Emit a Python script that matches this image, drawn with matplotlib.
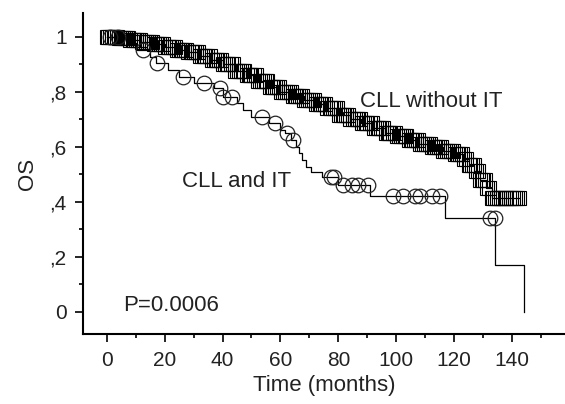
import numpy as np
import matplotlib
matplotlib.use('Agg')
import matplotlib.pyplot as plt
from matplotlib.ticker import MultipleLocator, FixedLocator, FixedFormatter

plt.rcParams['font.family'] = ['Liberation Sans', 'DejaVu Sans']

# CLL without IT: step breakpoints (months, survival) and censored times
no_it_t = [0, 4, 8, 12, 16, 20, 24, 28, 32, 36, 40, 44, 48, 52, 56, 60, 64, 68,
           72, 76, 80, 84, 88, 92, 96, 100, 104, 108, 112, 116, 120, 123, 125,
           127, 129, 131, 133]
no_it_s = [1.0, 0.995, 0.988, 0.98, 0.972, 0.963, 0.953, 0.943, 0.93, 0.915,
           0.90, 0.876, 0.86, 0.84, 0.818, 0.80, 0.785, 0.77, 0.755, 0.74,
           0.715, 0.70, 0.685, 0.668, 0.65, 0.637, 0.624, 0.61, 0.597, 0.585,
           0.572, 0.555, 0.535, 0.51, 0.48, 0.45, 0.415]
no_it_cens = [0, 0.6, 1, 1.8, 2.5, 3, 3.5, 4.3, 5, 5.6, 6.2, 6.9, 7.5, 8.2, 9,
              9.5, 10, 10.8, 11.5, 12.2, 13, 13.6, 14.2, 14.9, 15.5, 16.3, 17,
              17.5, 18, 18.8, 19.5, 20.2, 21, 21.6, 22.3, 22.9, 23.5, 24.3, 25,
              25.5, 26, 26.8, 27.5, 28.2, 29, 29.6, 30.2, 30.9, 31.5, 32.3, 33,
              33.5, 34, 34.8, 35.5, 36.2, 37, 37.6, 38.2, 38.9, 39.5, 40.3, 41,
              41.5, 42, 42.8, 43.5, 44.2, 45, 45.6, 46.3, 46.9, 47.5, 48.3, 49,
              49.5, 50, 50.8, 51.5, 52.2, 53, 53.6, 54.2, 54.9, 55.5, 56.3, 57,
              57.5, 58, 58.8, 59.5, 60.2, 61, 61.6, 62.3, 62.9, 63.5, 64.3, 65,
              65.5, 66, 66.8, 67.5, 68.2, 69, 69.6, 70.2, 70.9, 71.5, 72.3, 73,
              73.5, 74, 74.8, 75.5, 76.2, 77, 77.6, 78.2, 78.9, 79.5, 80.3, 81,
              81.5, 82, 82.8, 83.5, 84.2, 85, 85.6, 86.3, 86.9, 87.5, 88.3, 89,
              89.5, 90, 90.8, 91.5, 92.2, 93, 93.6, 94.2, 94.9, 95.5, 96.3, 97,
              97.5, 98, 98.8, 99.5, 100.2, 101, 101.6, 102.3, 102.9, 103.5,
              104.3, 105, 105.5, 106, 106.8, 107.5, 108.2, 109, 109.6, 110.2,
              110.9, 111.5, 112.3, 113, 113.5, 114, 114.8, 115.5, 116.2, 117,
              117.6, 118.3, 118.9, 119.5, 120.3, 121, 121.5, 122, 122.8, 123.5,
              124.2, 125, 125.6, 126.2, 126.9, 127.5, 128.3, 129, 129.5, 130,
              130.8, 131.5, 132.2, 133, 133.6, 134.2, 134.9, 135.5, 136.3, 137,
              137.5, 138, 138.8, 139.5, 140.2, 141, 141.6, 142.5]

# CLL and IT
it_t = [0, 7, 10, 15, 17, 21, 25, 30, 37, 40, 45, 47, 50, 56, 60, 61.5, 63.5,
        65.5, 66.5, 67.5, 69, 70.5, 74.5, 80, 91, 117, 134.2, 144]
it_s = [1.0, 0.976, 0.952, 0.927, 0.903, 0.879, 0.855, 0.83, 0.815, 0.782,
        0.758, 0.734, 0.709, 0.685, 0.661, 0.649, 0.625, 0.60, 0.576, 0.552,
        0.527, 0.509, 0.49, 0.46, 0.42, 0.34, 0.17, 0.0]
it_cens = [1, 4, 12.5, 17.3, 26.5, 33.7, 39.1, 40.3, 43.2, 53.5, 58.1, 62.2,
           64.2, 77.5, 78.5, 81.7, 84.6, 86.9, 90.4, 99, 102.4, 106.5, 108.3,
           112.3, 115.1, 132.4, 134.0]

yticks = [0, 0.2, 0.4, 0.6, 0.8, 1.0]
ytick_labels = ['0', ',2', ',4', ',6', ',8', '1']


def step_value(ts, ss, x):
    idx = np.searchsorted(ts, x, side='right') - 1
    return np.asarray(ss)[idx]


fig = plt.figure(figsize=(5.65, 4.04), dpi=100)
ax = fig.add_axes([0.1474, 0.1733, 0.8526, 0.7946])

# step lines, extended to last censored point
x1 = no_it_t + [no_it_cens[-1]]
y1 = no_it_s + [no_it_s[-1]]
ax.step(x1, y1, where='post', color='black', lw=0.9)
ax.step(it_t, it_s, where='post', color='black', lw=0.9)

ax.plot(no_it_cens, step_value(no_it_t, no_it_s, no_it_cens), ls='none',
        marker='s', ms=10.5, mfc='none', mec='black', mew=0.8)
ax.plot(it_cens, step_value(it_t, it_s, it_cens), ls='none',
        marker='o', ms=10.5, mfc='none', mec='#222222', mew=0.9)

ax.text(87.5, 0.763, 'CLL without IT', fontsize=16, color='#222222',
        ha='left', va='center')
ax.text(25.9, 0.475, 'CLL and IT', fontsize=16, color='#222222',
        ha='left', va='center')
ax.text(5.5, 0.024, 'P=0.0006', fontsize=16, color='#222222',
        ha='left', va='center')

ax.set_xlim(-8.1, 158.3)
ax.set_ylim(-0.081, 1.086)
ax.xaxis.set_major_locator(MultipleLocator(20))
ax.xaxis.set_minor_locator(MultipleLocator(10))
ax.yaxis.set_major_locator(FixedLocator(yticks))
ax.yaxis.set_major_formatter(FixedFormatter(ytick_labels))
ax.yaxis.set_minor_locator(MultipleLocator(0.1))

for s in ['top', 'right']:
    ax.spines[s].set_visible(False)
for s in ['left', 'bottom']:
    ax.spines[s].set_linewidth(1.5)

ax.tick_params(which='major', length=6, width=1.2, labelsize=15,
               labelcolor='#222222', pad=6)
ax.tick_params(which='minor', length=3, width=1.2)

ax.set_xlabel('Time (months)', fontsize=16, color='#222222', labelpad=4)
ax.set_ylabel('OS', fontsize=16, color='#222222', labelpad=8)

fig.savefig('out.png', dpi=100)
